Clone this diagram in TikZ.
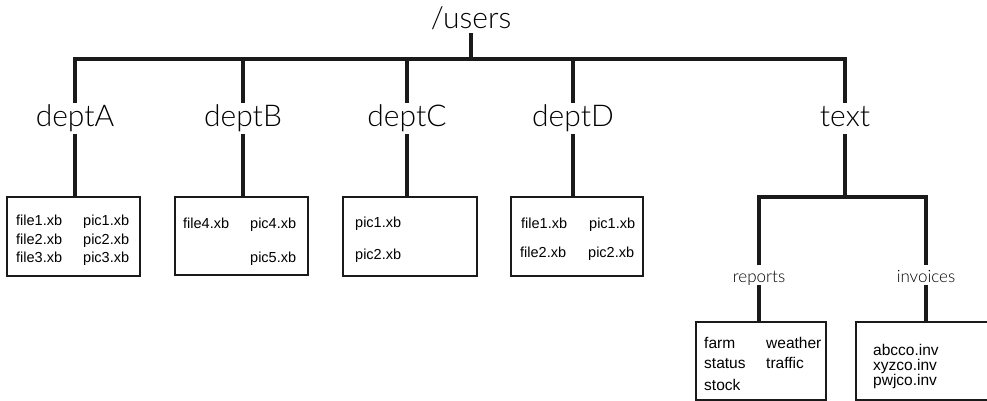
\documentclass[tikz,border=0pt]{standalone}
\usepackage{fontspec}
\setmainfont{Liberation Sans}
\IfFontExistsTF{Lato Light}
  {\newfontfamily\labelfont{Lato Light}}
  {\newfontfamily\labelfont{Liberation Sans}}
\definecolor{ink}{HTML}{1A1A1A}
\tikzset{
  tree/.style={draw=ink, line width=3.5pt},
  dirlabel/.style={inner sep=0pt, outer sep=0pt, anchor=base,
    font=\labelfont\fontsize{30}{30}\selectfont, text height=24pt, text depth=7pt},
  sublabel/.style={inner sep=0pt, outer sep=0pt, anchor=base,
    font=\labelfont\fontsize{17}{17}\selectfont, text height=17pt, text depth=3pt},
  filebox/.style={draw=ink, line width=2.5pt, inner sep=0pt, outer sep=0pt,
    anchor=north west, rectangle},
  fname/.style={inner sep=0pt, anchor=base west, font=\fontsize{14.5}{14.5}\selectfont},
  fnamebig/.style={inner sep=0pt, anchor=base west, font=\fontsize{15.5}{15.5}\selectfont}
}
\begin{document}
\begin{tikzpicture}[x=1pt, y=-1pt]
\useasboundingbox (0,0) rectangle (987,401);
\clip (0,0) rectangle (987,401);

% directory labels
\node[inner sep=0pt, outer sep=0pt, anchor=base, text depth=4pt,
      font=\labelfont\fontsize{30}{30}\selectfont] (users) at (471,29) {/users};
\node[dirlabel] (deptA) at (75,127) {deptA};
\node[dirlabel] (deptB) at (243,127) {deptB};
\node[dirlabel] (deptC) at (407,127) {deptC};
\node[dirlabel] (deptD) at (573,127) {deptD};
\node[dirlabel] (textd) at (845,127) {text};
\node[sublabel] (reports) at (759,282) {reports};
\node[sublabel] (invoices) at (926,282) {invoices};

% file boxes
\node[filebox, minimum width=133pt, minimum height=79pt] (boxA) at (7,197) {};
\node[filebox, minimum width=133pt, minimum height=78pt] (boxB) at (175,197) {};
\node[filebox, minimum width=134pt, minimum height=79pt] (boxC) at (343,197) {};
\node[filebox, minimum width=132pt, minimum height=79pt] (boxD) at (511,197) {};
\node[filebox, minimum width=130pt, minimum height=78pt] (boxR) at (696,322) {};
\node[filebox, minimum width=150pt, minimum height=78pt] (boxI) at (856,322) {};

% main branch
\coordinate (bar) at (0,59);
\coordinate (subbar) at (0,197);
\draw[tree] (users.south) -- (users.south |- bar);
\draw[tree, line join=miter] (deptA.north) -- (deptA.north |- bar)
  -- (textd.north |- bar) -- (textd.north);
\foreach \d in {deptB,deptC,deptD}
  \draw[tree] (\d.north |- bar) -- (\d.north);

% dept to box stems
\foreach \d/\b in {deptA/boxA,deptB/boxB,deptC/boxC,deptD/boxD}
  \draw[tree] (\d.south) -- (\d.south |- \b.north);

% text subtree
\draw[tree] (textd.south) -- (textd.south |- subbar);
\draw[tree, line join=miter] (reports.north) -- (reports.north |- subbar)
  -- (invoices.north |- subbar) -- (invoices.north);
\draw[tree] (reports.south) -- (reports.south |- boxR.north);
\draw[tree] (invoices.south) -- (invoices.south |- boxI.north);

% box contents
\node[fname] (a1) at (16,225) {file1.xb};
\node[fname] (a2) at (16,244) {file2.xb};
\node[fname] (a3) at (16,262) {file3.xb};
\node[fname] (a4) at (83,225) {pic1.xb};
\node[fname] (a5) at (83,244) {pic2.xb};
\node[fname] (a6) at (83,262) {pic3.xb};

\node[fname] (b1) at (183,228) {file4.xb};
\node[fname] (b2) at (250,228) {pic4.xb};
\node[fname] (b3) at (250,262) {pic5.xb};

\node[fname] (c1) at (355,227) {pic1.xb};
\node[fname] (c2) at (355,259) {pic2.xb};

\node[fname] (d1) at (521,228) {file1.xb};
\node[fname] (d2) at (520,257) {file2.xb};
\node[fname] (d3) at (589,228) {pic1.xb};
\node[fname] (d4) at (588,257) {pic2.xb};

\node[fnamebig] (r1) at (704,348) {farm};
\node[fnamebig] (r2) at (704,368) {status};
\node[fnamebig] (r3) at (704,390) {stock};
\node[fnamebig] (r4) at (766,348) {weather};
\node[fnamebig] (r5) at (766,368) {traffic};

\node[fnamebig] (i1) at (873,355) {abcco.inv};
\node[fnamebig] (i2) at (873,370) {xyzco.inv};
\node[fnamebig] (i3) at (873,385) {pwjco.inv};
\end{tikzpicture}
\end{document}
